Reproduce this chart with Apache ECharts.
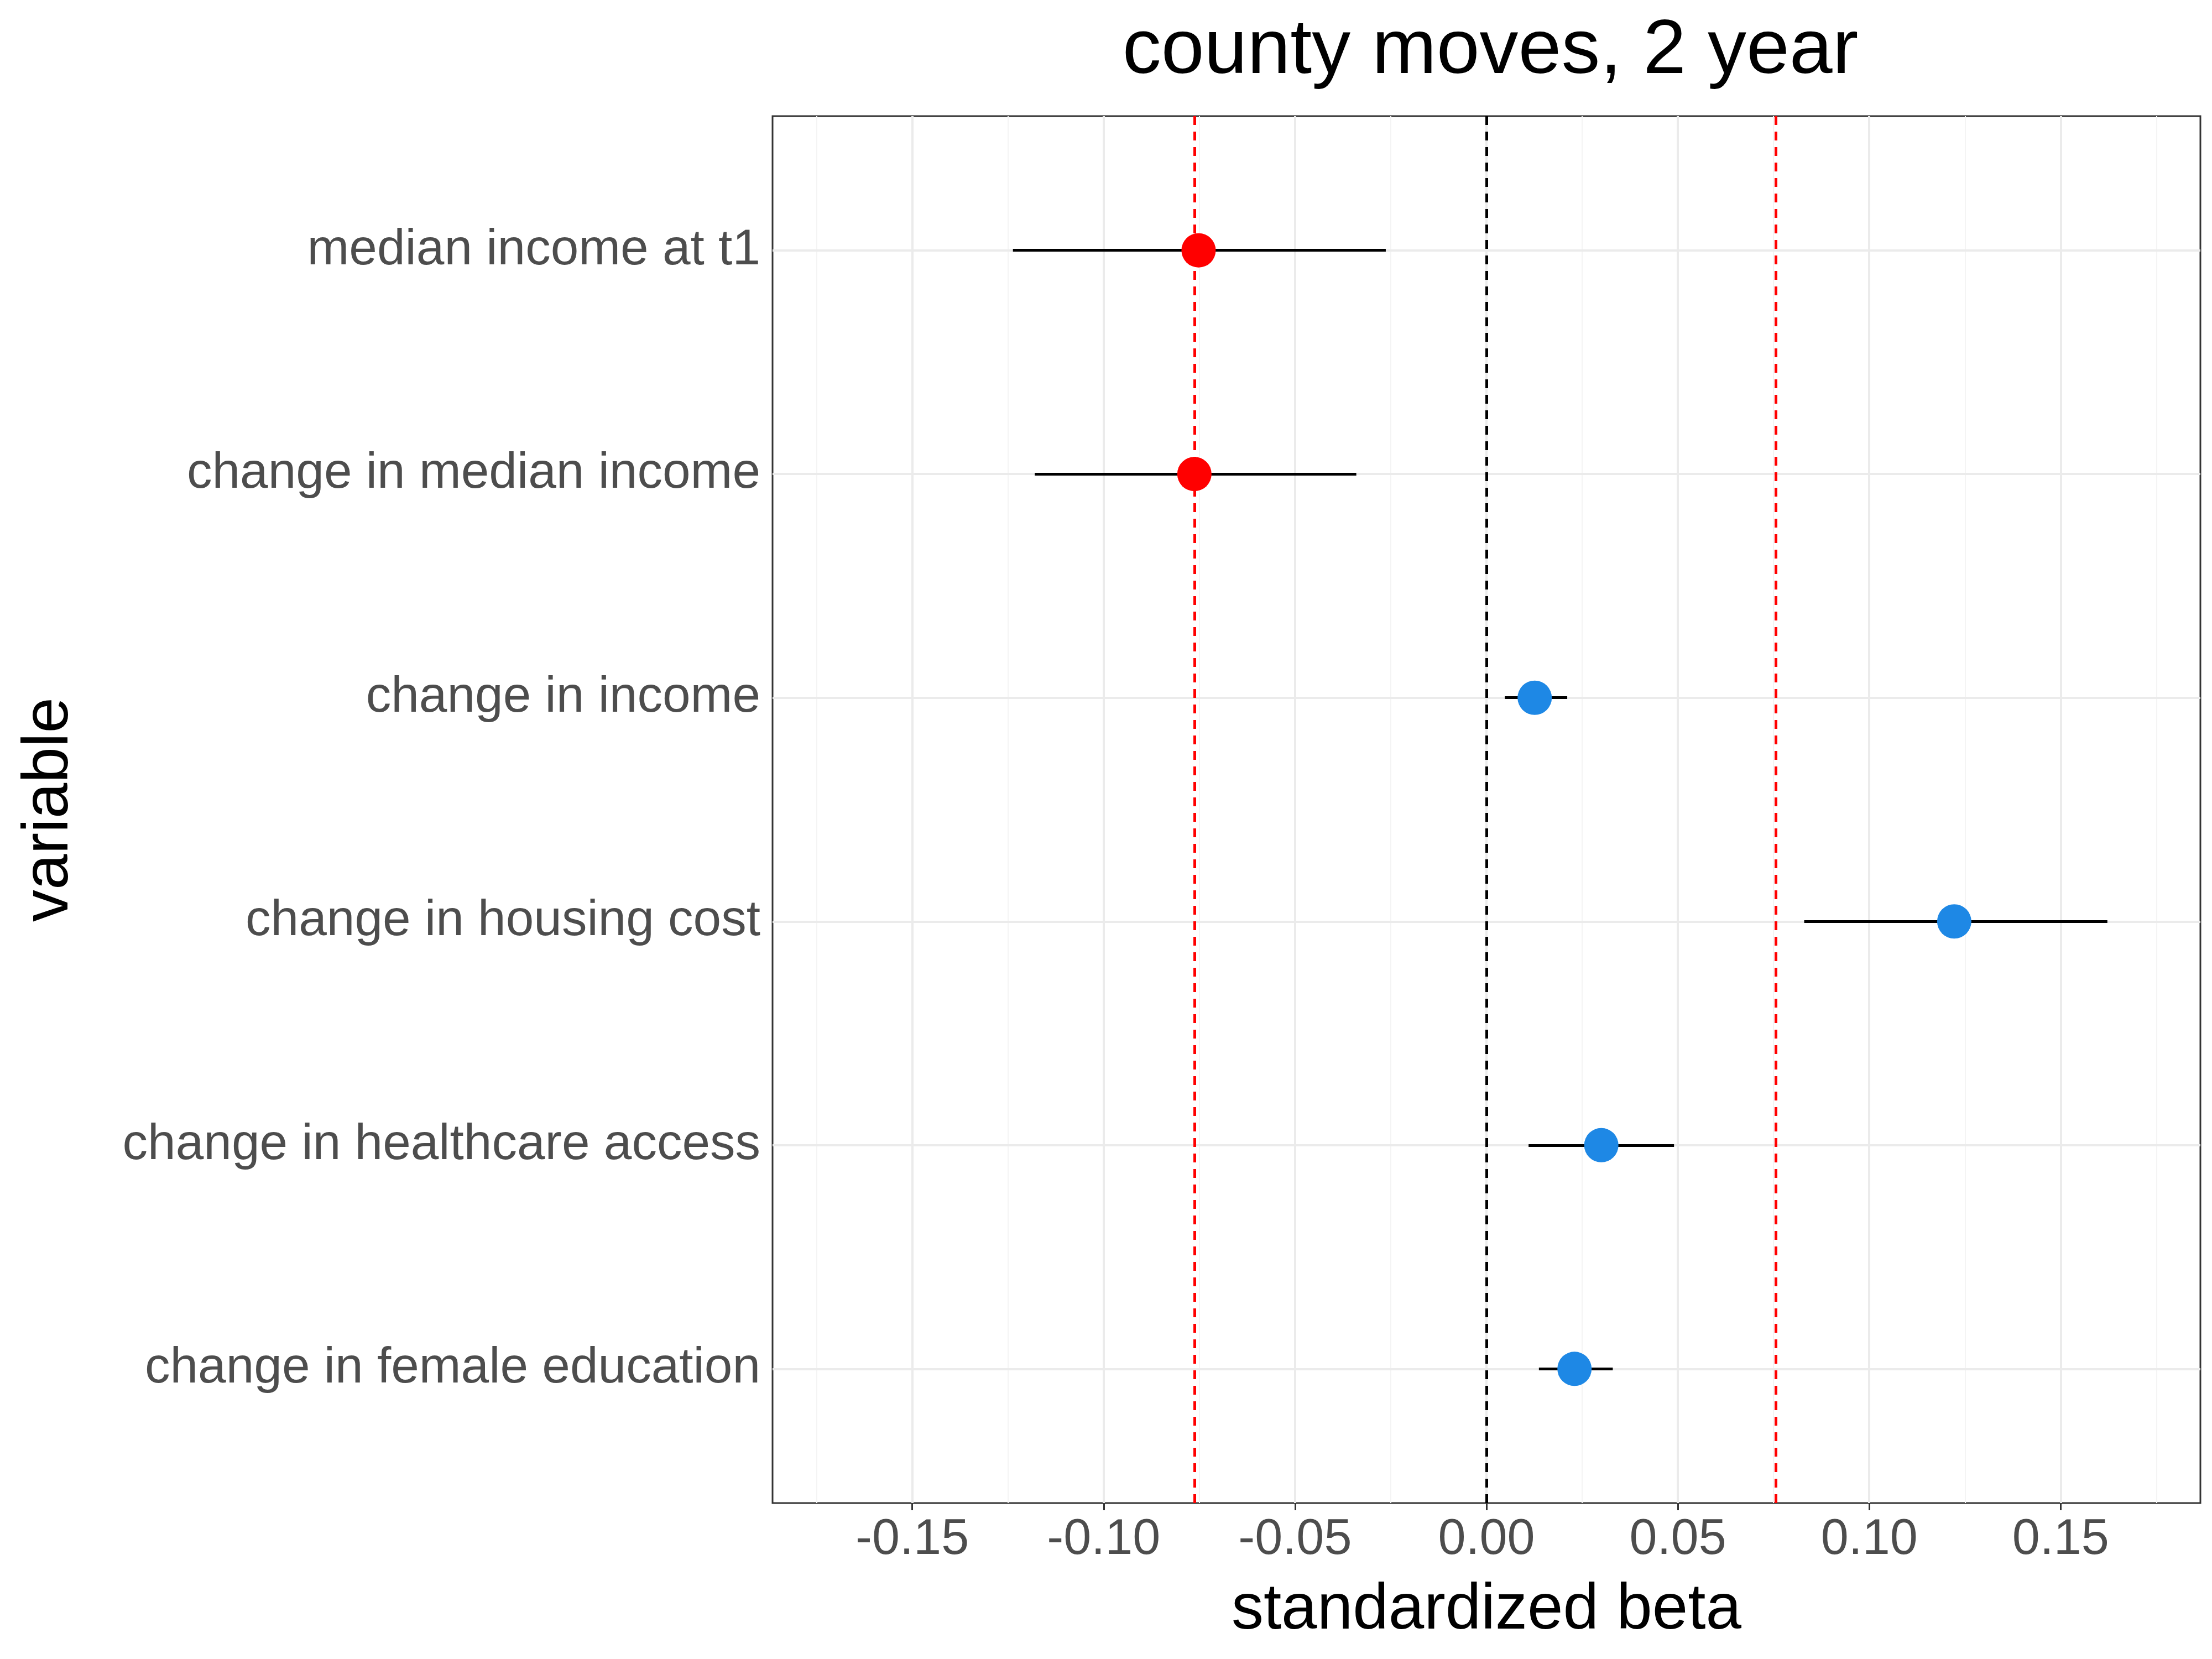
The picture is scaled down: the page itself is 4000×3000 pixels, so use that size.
<!DOCTYPE html>
<html>
<head>
<meta charset="utf-8">
<script src="https://cdn.jsdelivr.net/npm/echarts@6/dist/echarts.min.js"></script>
<style>html,body{margin:0;padding:0;background:#fff}#chart{width:4000px;height:3000px}</style>
</head>
<body>
<div id="chart"></div>
<script>
// bottom to top, like ggplot's discrete axis
const categories = ['change in female education', 'change in healthcare access', 'change in housing cost',
    'change in income', 'change in median income', 'median income at t1']
const beta = [0.023, 0.030, 0.1222, 0.0126, -0.0763, -0.0752]
const lower = [0.0137, 0.011, 0.083, 0.0048, -0.118, -0.1237]
const upper = [0.033, 0.049, 0.1622, 0.0211, -0.034, -0.0263]
const xTicks = [-0.15, -0.10, -0.05, 0.00, 0.05, 0.10, 0.15]
const xMinor = [-0.175, -0.125, -0.075, -0.025, 0.025, 0.075, 0.125, 0.175]
const thresholds = [-0.0763, 0.0756]

const myChart = echarts.init(document.getElementById('chart'))
const font = 'Liberation Sans, Arial, sans-serif'
const yPos = categories.map((c, i) => i + 1)
const yMin = 0.4, yMax = 6.6, xMin = -0.1865, xMax = 0.1865

function vLine(x, style) {
    return [{coord: [x, yMin], lineStyle: style}, {coord: [x, yMax]}]
}
function hLine(y, x1, x2, style) {
    return [{coord: [x1, y], lineStyle: style}, {coord: [x2, y]}]
}

const gridLines = [
    ...xMinor.map(v => vLine(v, {color: '#f4f4f4', width: 2, type: 'solid'})),
    ...xTicks.map(v => vLine(v, {color: '#ebebeb', width: 4, type: 'solid'})),
    ...yPos.map(v => hLine(v, xMin, xMax, {color: '#ebebeb', width: 4, type: 'solid'}))
]
const refLines = [
    vLine(0, {color: '#000', width: 5, type: [16, 12]}),
    ...thresholds.map(v => vLine(v, {color: '#ff0000', width: 5, type: [16, 12]}))
]
const errorBars = yPos.map((y, i) => hLine(y, lower[i], upper[i], {color: '#000', width: 5, type: 'solid', opacity: 1}))

const option = {
    animation: false,
    title: {
        text: 'county moves, 2 year',
        left: 2690, top: 18, textAlign: 'center',
        textStyle: {fontFamily: font, fontSize: 140, fontWeight: 'normal', color: '#000'}
    },
    grid: {left: 1397, right: 21, top: 210, bottom: 282, show: true, borderColor: '#333', borderWidth: 3, backgroundColor: '#fff'},
    xAxis: {
        type: 'value', min: xMin, max: xMax,
        name: 'standardized beta', nameLocation: 'middle', nameGap: 195,
        nameTextStyle: {fontFamily: font, fontSize: 116, color: '#000', verticalAlign: 'middle'},
        axisLine: {show: false}, splitLine: {show: false},
        axisTick: {show: true, customValues: xTicks, length: 13, lineStyle: {color: '#333', width: 3}},
        axisLabel: {customValues: xTicks, formatter: v => v.toFixed(2), fontFamily: font, fontSize: 90, color: '#4d4d4d', margin: 22}
    },
    yAxis: {
        type: 'value', min: yMin, max: yMax,
        name: 'variable', nameLocation: 'middle', nameGap: 1307, nameRotate: 90,
        nameTextStyle: {fontFamily: font, fontSize: 116, color: '#000', verticalAlign: 'middle'},
        axisLine: {show: false}, splitLine: {show: false},
        axisTick: {show: true, customValues: yPos, length: 13, lineStyle: {color: '#333', width: 3}},
        axisLabel: {customValues: yPos, formatter: v => categories[Math.round(v) - 1] || '', fontFamily: font, fontSize: 91, color: '#4d4d4d', margin: 22}
    },
    series: [
        {
            type: 'scatter', data: [], silent: true, z: 1,
            markLine: {silent: true, symbol: 'none', label: {show: false}, animation: false, data: gridLines}
        },
        {
            type: 'scatter', data: [], silent: true, z: 3,
            markLine: {silent: true, symbol: 'none', label: {show: false}, animation: false, data: refLines}
        },
        {
            type: 'scatter', data: [], silent: true, z: 4,
            markLine: {silent: true, symbol: 'none', label: {show: false}, animation: false, data: errorBars}
        },
        {
            type: 'scatter', z: 5, symbolSize: 62,
            data: yPos.map((y, i) => [beta[i], y]),
            itemStyle: {opacity: 1, color: p => p.value[0] < 0 ? '#ff0000' : '#1e88e5'}
        }
    ]
}

myChart.setOption(option)
</script>
</body>
</html>
